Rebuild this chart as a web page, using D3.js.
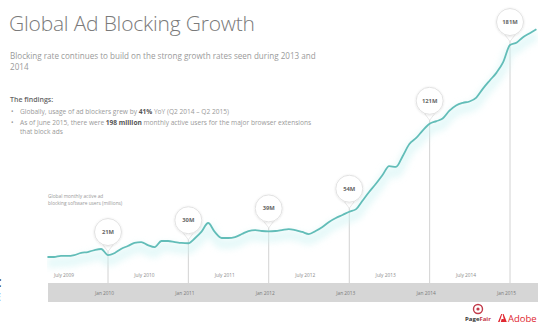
<!DOCTYPE html>
<html>
<head>
<meta charset="utf-8">
<script src="https://cdn.jsdelivr.net/npm/d3@7"></script>
<style>
  html, body { margin: 0; padding: 0; background: #fff; }
  svg { display: block; font-family: "Open Sans", "Noto Sans", sans-serif; }
</style>
</head>
<body>
<svg id="chart" width="538" height="325"></svg>
<script>
// Monthly active ad blocking users (millions), April 2009 – May 2015
const startMonth = [2009, 3]; // April 2009 (0-based month)
const users = [
  19.5, 19.5, 20.3, 20.3, 21.0, 22.6, 23.3, 24.8, 25.6,          // Apr–Dec 2009
  21.0, 22.6, 25.6, 27.9, 30.2, 30.9, 28.6, 27.1, 31.7, 31.7, 30.9, 30.2, // 2010
  30.0, 34.0, 38.6, 45.4, 38.6, 34.0, 34.0, 34.7, 37.0, 39.3, 40.0, 39.3, // 2011
  39.0, 39.3, 40.0, 40.8, 40.0, 38.6, 37.0, 39.3, 42.4, 46.2, 49.2, 51.5, // 2012
  54.0, 56.0, 62.2, 69.0, 75.1, 82.0, 88.8, 88.1, 96.5, 105.6, 110.2, 116.0, // 2013
  121.0, 123.0, 125.0, 131.0, 135.0, 137.0, 138.0, 141.0, 148.0, 154.0, 160.0, 168.0, // 2014
  181.0, 183.0, 187.0, 190.0, 193.0                                // Jan–May 2015
];

// Labelled milestones (January of each year)
const milestoneYears = [2010, 2011, 2012, 2013, 2014, 2015];
const milestoneLabels = ["21M", "30M", "39M", "54M", "121M", "181M"];
const milestoneValues = [21, 30, 39, 54, 121, 181];

// Axis tick labels
const julyLabels = ["July 2009", "July 2010", "July 2011", "July 2012", "July 2013", "July 2014"];
const janLabels = ["Jan 2010", "Jan 2011", "Jan 2012", "Jan 2013", "Jan 2014", "Jan 2015"];

const series = users.map((v, i) => ({ date: new Date(startMonth[0], startMonth[1] + i, 1), value: v }));

const svg = d3.select("#chart");
const W = 538;

const x = d3.scaleTime()
  .domain([new Date(2010, 0, 1), new Date(2015, 0, 1)])
  .range([108, 510]);
const y = d3.scaleLinear().domain([0, 200]).range([282.6, 20.1]);

const bandTop = 283, bandBottom = 302;

// ---- header text ----
svg.append("text")
  .attr("x", 9).attr("y", 31)
  .attr("font-size", 21).attr("font-weight", 300).attr("fill", "#7a7a7a")
  .attr("letter-spacing", -0.2)
  .text("Global Ad Blocking Growth");

const sub = svg.append("g").attr("fill", "#9a9a9a").attr("font-size", 8.1);
sub.append("text").attr("x", 10).attr("y", 59)
  .text("Blocking rate continues to build on the strong growth rates seen during 2013 and");
sub.append("text").attr("x", 10).attr("y", 70).text("2014");

const findings = svg.append("g").attr("font-size", 6.6).attr("fill", "#9a9a9a");
findings.append("text").attr("x", 10).attr("y", 102).attr("fill", "#666").attr("font-weight", 600)
  .attr("font-size", 7).text("The findings:");
findings.append("text").attr("x", 11).attr("y", 114).text("•");
findings.append("text").attr("x", 20).attr("y", 114)
  .call(t => {
    t.append("tspan").text("Globally, usage of ad blockers grew by ");
    t.append("tspan").attr("font-weight", 700).attr("fill", "#555").text("41%");
    t.append("tspan").text(" YoY (Q2 2014 – Q2 2015)");
  });
findings.append("text").attr("x", 11).attr("y", 125).text("•");
findings.append("text").attr("x", 20).attr("y", 125)
  .call(t => {
    t.append("tspan").text("As of June 2015, there were ");
    t.append("tspan").attr("font-weight", 700).attr("fill", "#555").text("198 million");
    t.append("tspan").text(" monthly active users for the major browser extensions");
  });
findings.append("text").attr("x", 20).attr("y", 134).text("that block ads");

// ---- chart annotation ----
const note = svg.append("g").attr("font-size", 4.8).attr("fill", "#999");
note.append("text").attr("x", 48).attr("y", 198).text("Global monthly active ad");
note.append("text").attr("x", 48).attr("y", 204.5).text("blocking software users (millions)");

// ---- vertical milestone lines ----
const milestones = milestoneYears.map((yr, i) => ({
  date: new Date(yr, 0, 1), label: milestoneLabels[i], value: milestoneValues[i]
}));

svg.append("g").selectAll("line").data(milestones).join("line")
  .attr("x1", d => x(d.date)).attr("x2", d => x(d.date))
  .attr("y1", d => y(d.value) - 10).attr("y2", bandTop)
  .attr("stroke", "#d2d2d2").attr("stroke-width", 1);

// ---- glow under the line ----
const defs = svg.append("defs");
defs.append("filter").attr("id", "soft").attr("x", "-10%").attr("y", "-50%").attr("width", "120%").attr("height", "200%")
  .append("feGaussianBlur").attr("stdDeviation", 3);
const clip = defs.append("clipPath").attr("id", "plotClip");
clip.append("rect").attr("x", 47).attr("y", 0).attr("width", W - 47).attr("height", bandTop);

const line = d3.line().x(d => x(d.date)).y(d => y(d.value)).curve(d3.curveMonotoneX);

const plot = svg.append("g").attr("clip-path", "url(#plotClip)");
plot.append("path").datum(series)
  .attr("d", line)
  .attr("transform", "translate(0,6)")
  .attr("fill", "none").attr("stroke", "#cdf3f3").attr("stroke-width", 10)
  .attr("opacity", 0.5).attr("filter", "url(#soft)");
plot.append("path").datum(series)
  .attr("d", line)
  .attr("fill", "none").attr("stroke", "#62bdb8").attr("stroke-width", 1.8)
  .attr("stroke-linejoin", "round");

// ---- milestone bubbles ----
defs.append("filter").attr("id", "shadow").attr("x", "-50%").attr("y", "-50%").attr("width", "200%").attr("height", "200%")
  .append("feDropShadow").attr("dx", 0).attr("dy", 0.5).attr("stdDeviation", 1)
  .attr("flood-color", "#000").attr("flood-opacity", 0.12);

const bubbleR = 13.5;
const bubbles = svg.append("g").selectAll("g").data(milestones).join("g")
  .attr("transform", d => `translate(${x(d.date)},${y(d.value) - 23})`);
bubbles.append("path")
  .attr("d", `M${-bubbleR * 0.45},${bubbleR * 0.85} L0,${bubbleR + 6} L${bubbleR * 0.45},${bubbleR * 0.85} Z`)
  .attr("fill", "#fff").attr("stroke", "#e2e2e2").attr("stroke-width", 0.8);
bubbles.append("circle").attr("r", bubbleR)
  .attr("fill", "#fff").attr("stroke", "#e2e2e2").attr("stroke-width", 1)
  .attr("filter", "url(#shadow)");
bubbles.append("text")
  .attr("text-anchor", "middle").attr("dy", "0.35em")
  .attr("font-size", 5.8).attr("font-weight", 700).attr("fill", "#666")
  .text(d => d.label);

// ---- time axis band ----
svg.append("rect")
  .attr("x", 48).attr("y", bandTop).attr("width", W - 48).attr("height", bandBottom - bandTop)
  .attr("fill", "#d6d6d6");

const julyDates = julyLabels.map(s => new Date(+s.slice(-4), 6, 1));
const janDates = janLabels.map(s => new Date(+s.slice(-4), 0, 1));

const topAxis = d3.axisBottom(x).tickValues(julyDates).tickSize(0)
  .tickFormat((d, i) => julyLabels[i]);
svg.append("g").attr("transform", "translate(-4,271)").call(topAxis)
  .call(g => g.select(".domain").remove())
  .call(g => g.selectAll("text").attr("font-size", 4.8).attr("fill", "#8a8a8a").attr("font-family", "Open Sans, sans-serif"));

const bandAxis = d3.axisBottom(x).tickValues(janDates).tickSize(0)
  .tickFormat((d, i) => janLabels[i]);
svg.append("g").attr("transform", "translate(-4,289)").call(bandAxis)
  .call(g => g.select(".domain").remove())
  .call(g => g.selectAll("text").attr("font-size", 4.8).attr("fill", "#7a7a7a").attr("font-family", "Open Sans, sans-serif"));

// ---- logos ----
const pf = svg.append("g").attr("transform", "translate(478,309)");
pf.append("circle").attr("r", 4.5).attr("fill", "none").attr("stroke", "#c23b4a").attr("stroke-width", 1.4);
pf.append("circle").attr("r", 1.6).attr("fill", "#c23b4a");
pf.append("text").attr("x", 0).attr("y", 12).attr("text-anchor", "middle")
  .attr("font-size", 6).attr("font-weight", 700).attr("fill", "#333")
  .call(t => {
    t.append("tspan").text("Page");
    t.append("tspan").attr("fill", "#c23b4a").text("Fair");
  });

const adobe = svg.append("g").attr("transform", "translate(498,322)");
adobe.append("path")
  .attr("d", "M0,0 L3.2,-8 L4.2,-8 L1.6,0 Z M4.6,-8 L5.6,-8 L8.8,0 L6.4,0 Z M3.6,-3 L5.6,-3 L6.4,0 L2.8,0 Z")
  .attr("fill", "#e0262f");
adobe.append("text").attr("x", 10).attr("y", 0)
  .attr("font-size", 9.5).attr("fill", "#e0262f").text("Adobe");

// ---- lettering clipped at the left edge ----
svg.append("text").attr("x", -5).attr("y", 287).attr("font-size", 10).attr("font-weight", 700).attr("fill", "#111").text("C");
svg.append("text").attr("x", -5).attr("y", 301).attr("font-size", 10).attr("font-weight", 700).attr("fill", "#111").text("E");
</script>
</body>
</html>
